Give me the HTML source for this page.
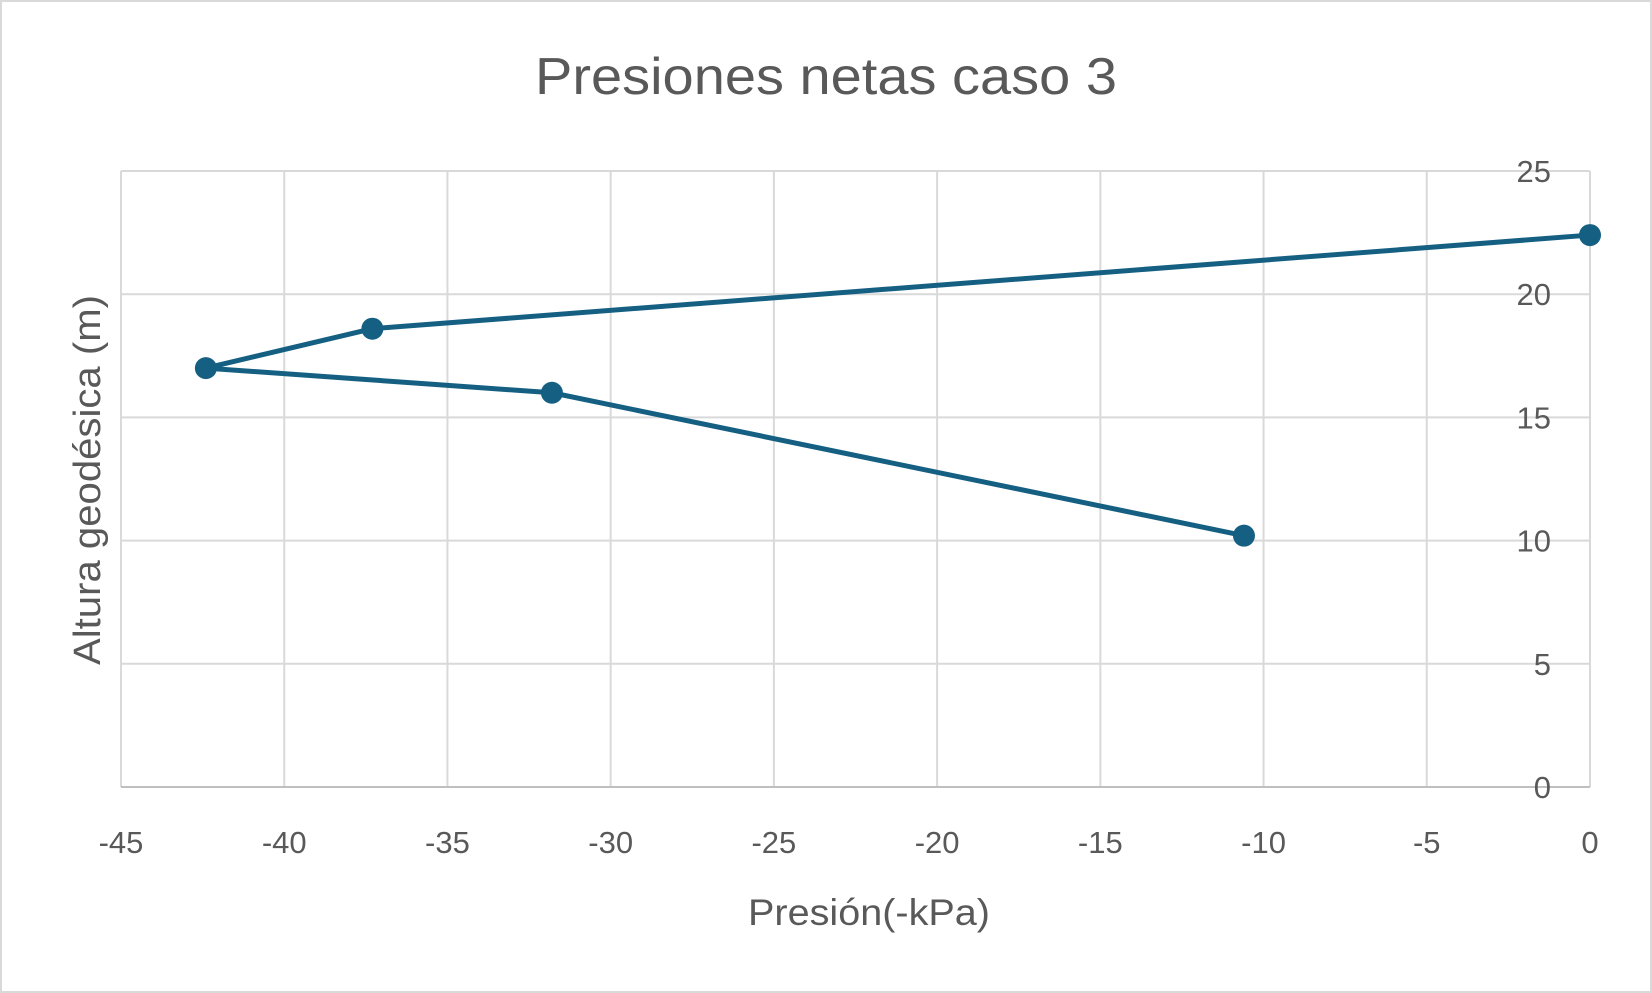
<!DOCTYPE html>
<html><head><meta charset="utf-8"><style>
html,body{margin:0;padding:0;background:#fff}
svg{display:block;font-family:"Liberation Sans",sans-serif}
</style></head><body>
<svg width="1652" height="993" viewBox="0 0 1652 993">
<rect x="1" y="1" width="1650" height="991" fill="#fff" stroke="#d9d9d9" stroke-width="2"/>
<text x="826" y="94" text-anchor="middle" font-size="52" fill="#595959" textLength="582" lengthAdjust="spacingAndGlyphs">Presiones netas caso 3</text>
<g id="grid"></g>
<g id="ticks"></g>
<g id="series"></g>
<text x="869" y="925" text-anchor="middle" font-size="37" fill="#595959" textLength="242" lengthAdjust="spacingAndGlyphs">Presión(-kPa)</text>
<text transform="translate(100,480) rotate(-90)" text-anchor="middle" font-size="38" fill="#595959" textLength="370" lengthAdjust="spacingAndGlyphs">Altura geodésica (m)</text>
</svg>
<script>
const xTicks=[-45,-40,-35,-30,-25,-20,-15,-10,-5,0];
const yTicks=[0,5,10,15,20,25];
const pressure=[0,-37.3,-42.4,-31.8,-10.6];
const height=[22.4,18.6,17.0,16.0,10.2];
const L=121,R=1590,T=171,B=787;
const sx=v=>L+(v+45)/45*(R-L);
const sy=v=>B-v/25*(B-T);
const NS="http://www.w3.org/2000/svg";
function mk(tag,attrs,parent){const e=document.createElementNS(NS,tag);for(const k in attrs)e.setAttribute(k,attrs[k]);parent.appendChild(e);return e;}
const grid=document.getElementById('grid'),ticks=document.getElementById('ticks'),series=document.getElementById('series');
xTicks.forEach(v=>{
 const l=mk('line',{x1:sx(v),x2:sx(v),y1:T,y2:B,stroke:'#d9d9d9','stroke-width':2},grid);
 
 
 const t=mk('text',{x:sx(v),y:853,'text-anchor':'middle','font-size':31,fill:'#595959'},ticks);
 t.textContent=v;
 
 
});
yTicks.forEach(v=>{
 const l=mk('line',{x1:L,x2:R,y1:sy(v),y2:sy(v),stroke:v===0?'#bfbfbf':'#d9d9d9','stroke-width':2},grid);
 
 
 const t=mk('text',{x:1551,y:sy(v)+11,'text-anchor':'end','font-size':31,fill:'#595959'},ticks);
 t.textContent=v;
 
 
});
const pts=pressure.map((p,i)=>sx(p)+','+sy(height[i])).join(' ');
const line=mk('polyline',{points:pts,fill:'none',stroke:'#156082','stroke-width':5,'stroke-linejoin':'round'},series);


pressure.forEach((p,i)=>{
 const c=mk('circle',{cx:sx(p),cy:sy(height[i]),r:11,fill:'#156082'},series);
 
 
});
</script>
</body></html>
